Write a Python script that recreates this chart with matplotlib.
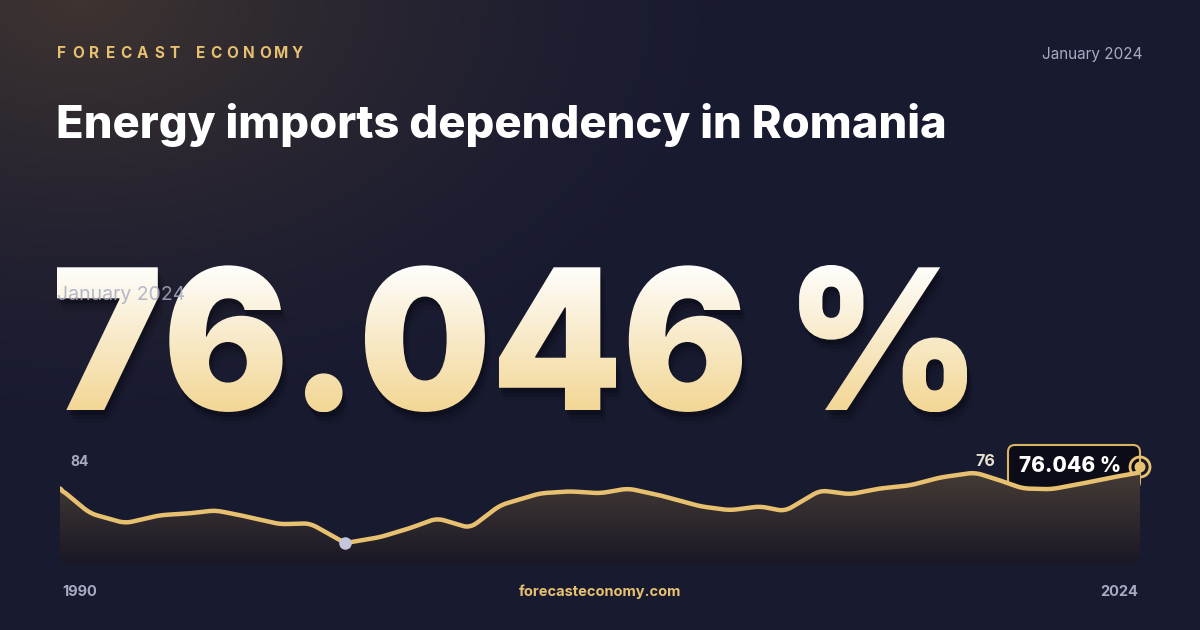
import numpy as np
import matplotlib
matplotlib.use("Agg")
import matplotlib.pyplot as plt
from matplotlib.textpath import TextPath
from matplotlib.font_manager import FontProperties
from matplotlib.patches import PathPatch, FancyBboxPatch, Circle
from matplotlib.transforms import Affine2D

years = [1990.0, 1990.94, 1992.05, 1993.15, 1994.09, 1994.88, 1995.67, 1996.93, 1997.87, 1998.97,
         2000.07, 2001.02, 2001.87, 2002.91, 2003.85, 2005.11, 2006.06, 2007.0, 2007.88, 2008.89,
         2010.15, 2011.09, 2012.04, 2012.82, 2013.93, 2014.87, 2015.81, 2016.76, 2017.7, 2018.8,
         2019.59, 2020.3, 2021.2, 2022.2, 2023.1, 2024.0]
values = [66.5, 51.7, 45.8, 50.6, 51.7, 53.5, 50.6, 45.2, 45.8, 34.0,
          37.5, 42.9, 48.8, 42.9, 56.5, 63.6, 64.8, 63.6, 66.5, 62.4,
          55.9, 53.5, 55.9, 52.9, 65.4, 63.0, 66.5, 68.3, 73.0, 76.0,
          71.3, 66.5, 66.0, 69.5, 73.0, 76.046]
y_min, y_max = 34, 84
title = "Energy imports dependency in Romania"
brand = "FORECAST ECONOMY"
date_label = "January 2024"
big_value = "76.046 %"
site = "forecasteconomy.com"

W, H = 1200, 630
fig = plt.figure(figsize=(12, 6.3), dpi=100)
bg = fig.add_axes([0, 0, 1, 1])
bg.axis("off")

yy, xx = np.mgrid[0:H, 0:W]
base = np.array([24, 26, 48]) / 255
glow = np.array([62, 52, 48]) / 255
d = np.sqrt(((xx - 80) / 700.0) ** 2 + ((yy - 0) / 450.0) ** 2)
t = np.clip(1 - d, 0, 1)[..., None] ** 1.5
img = base * (1 - t) + glow * t
bg.imshow(img, extent=[0, W, 0, H], origin="upper", zorder=0, aspect="auto")
bg.set_xlim(0, W); bg.set_ylim(0, H)

fam = ["Inter", "DejaVu Sans"]
fp_b = FontProperties(family="Inter", weight="bold", size=11)
units = [0.55 if ch == " " else 1.0 for ch in brand]
total = sum(units[:-1]) + 0.0
step = (302 - 57 - 9) / (sum(units) - 1)
pos = 57 + 4.5
for ch, u in zip(brand, units):
    if ch != " ":
        bg.text(pos, 630 - 53, ch, color="#e8c170", fontproperties=fp_b,
                va="center", ha="center")
    pos += step * u
bg.text(1143, 630 - 54, date_label, color="#a9abc4", fontsize=11, family=fam,
        va="center", ha="right")
bg.text(56, 630 - 125, title, color="white", fontsize=32.6, fontweight="heavy",
        family=fam, va="center", ha="left")

fp = FontProperties(family="Inter", weight="black")
tp = TextPath((0, 0), big_value, size=100, prop=fp)
ext = tp.get_extents()
s = 145.0 / ext.y1
sx = 910.0 / ext.width
tr = Affine2D().translate(-ext.x0, 0).scale(sx, s).translate(57, 630 - 410)
path = tr.transform_path(tp)
for off, a in [((2, -5), 0.18), ((4, -9), 0.12), ((6, -13), 0.07)]:
    bg.add_patch(PathPatch(Affine2D().translate(*off).transform_path(path), fc="black",
                           ec="none", alpha=a, zorder=2))
grad = np.linspace(0, 1, 200)[:, None, None]
top = np.array([1.0, 1.0, 1.0]); bot = np.array([0.95, 0.84, 0.58])
gimg = np.repeat(top * (1 - grad) + bot * grad, 2, axis=1)
im = bg.imshow(gimg, extent=[40, 990, 630 - 412, 630 - 262], origin="upper",
               zorder=3, aspect="auto")
patch = PathPatch(path, fc="none", ec="none", transform=bg.transData)
bg.add_patch(patch)
im.set_clip_path(patch)
bg.set_xlim(0, W); bg.set_ylim(0, H)
bg.text(57, 630 - 295, date_label, color="#a9abc4", fontsize=14, family=fam,
        va="center", ha="left", alpha=0.85, zorder=4)

px0, px1, py_top, py_bot = 60, 1140, 459, 564
ax = fig.add_axes([px0 / W, 1 - py_bot / H, (px1 - px0) / W, (py_bot - py_top) / H])
ax.axis("off")
ymin_ax = y_min - (py_bot - 543) / 1.69
yr = np.array(years); vl = np.array(values)
xf = np.linspace(yr[0], yr[-1], 800)
yf = np.interp(xf, yr, vl)
k = np.ones(11) / 11
yfs = np.convolve(np.pad(yf, 5, mode="edge"), k, mode="valid")
yfs[:2] = yf[:2]; yfs[-2:] = yf[-2:]
fimg = np.linspace(0, 1, 100)[:, None, None]
ftop = np.array([70, 60, 54]) / 255; fbot = np.array([26, 24, 38]) / 255
fi = np.repeat(ftop * (1 - fimg) + fbot * fimg, 2, axis=1)
poly = ax.fill_between(xf, ymin_ax, yfs, color="none")
fim = ax.imshow(fi, extent=[yr[0], yr[-1], ymin_ax, 77], origin="upper", aspect="auto", zorder=1)
fim.set_clip_path(poly.get_paths()[0], transform=ax.transData)
ax.plot(xf, yfs, color="#e8c170", lw=3.2, zorder=3, solid_capstyle="round")
imin = int(np.argmin(vl))
ax.plot(yr[imin], vl[imin], "o", ms=8, color="#c4c6dc", zorder=4)
imax = int(np.argmax(vl[:-1]))
ax.set_xlim(years[0], years[-1]); ax.set_ylim(ymin_ax, y_max)
bg.text(985, 630 - 462, f"{vl[imax]:.0f}", color="#e8e2d2", fontsize=11.5,
        family=fam, fontweight="bold", ha="center", va="center", zorder=5)

bg.text(70, 630 - 462, f"{y_max}", color="#a9abc4", fontsize=10, family=fam, fontweight="bold", va="center", zorder=5)
bg.text(70, 630 - 547, f"{y_min}", color="#a9abc4", fontsize=10, family=fam, fontweight="bold", va="center", zorder=5)
bg.text(62, 630 - 592, f"{int(years[0])}", color="#a9abc4", fontsize=10.5, family=fam, fontweight="bold", va="center")
bg.text(1138, 630 - 592, f"{int(years[-1])}", color="#a9abc4", fontsize=10.5, family=fam, fontweight="bold", va="center", ha="right")
bg.text(600, 630 - 592, site, color="#e8c170", fontsize=10.5, family=fam, fontweight="bold", va="center", ha="center")

box = FancyBboxPatch((1008, 630 - 489), 132, 44, boxstyle="round,pad=0,rounding_size=7",
                     fc="#0b0c18", ec="#d9b463", lw=1.5, zorder=6)
bg.add_patch(box)
bg.text(1070, 630 - 466, big_value, color="white", fontsize=15, family=fam,
        fontweight="heavy", va="center", ha="center", zorder=7)
bg.add_patch(Circle((1140, 630 - 467), 10, fc="none", ec="#e8c170", lw=2, zorder=8))
bg.add_patch(Circle((1140, 630 - 467), 5.5, fc="#e8c170", ec="none", zorder=8))
bg.set_xlim(0, W); bg.set_ylim(0, H)

fig.savefig("out.png", dpi=100)
